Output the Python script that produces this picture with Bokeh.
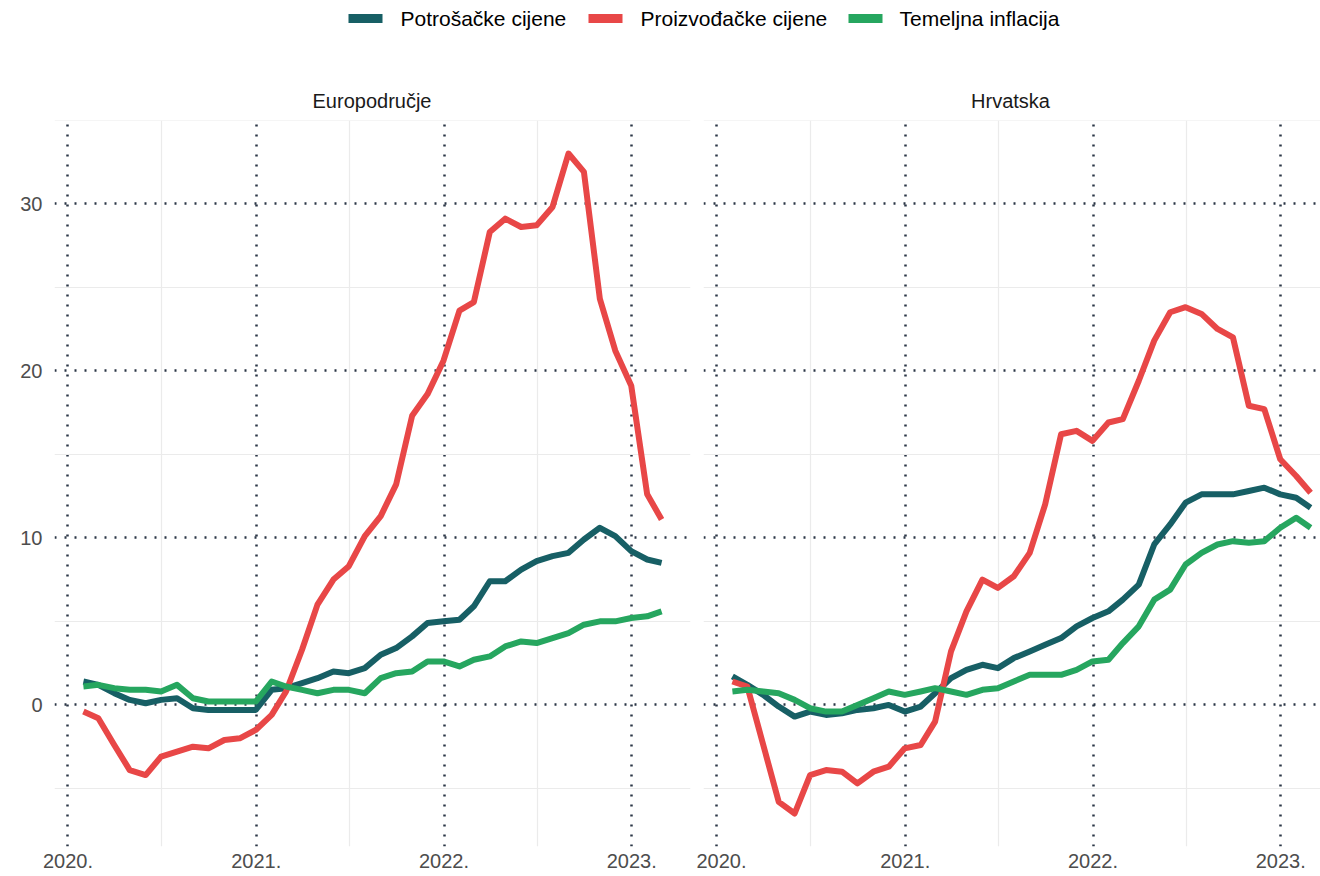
import pandas as pd
from bokeh.plotting import figure
from bokeh.layouts import column, row
from bokeh.models import Range1d, FixedTicker, DatetimeTickFormatter, ColumnDataSource
from bokeh.core.properties import value
from bokeh.embed import file_html
from bokeh.resources import INLINE

# ---------------- data ----------------
months = pd.date_range("2020-01-01", periods=38, freq="MS") + pd.offsets.MonthEnd(0)

series_names = ["Potrošačke cijene", "Proizvođačke cijene", "Temeljna inflacija"]
panel_names = ["Europodručje", "Hrvatska"]

ea_cpi = [1.4, 1.2, 0.7, 0.3, 0.1, 0.3, 0.4, -0.2, -0.3, -0.3, -0.3, -0.3,
          0.9, 1.0, 1.3, 1.6, 2.0, 1.9, 2.2, 3.0, 3.4, 4.1, 4.9, 5.0,
          5.1, 5.9, 7.4, 7.4, 8.1, 8.6, 8.9, 9.1, 9.9, 10.6, 10.1, 9.2,
          8.7, 8.5]
ea_ppi = [-0.4, -0.8, -2.4, -3.9, -4.2, -3.1, -2.8, -2.5, -2.6, -2.1, -2.0, -1.5,
          -0.6, 0.8, 3.3, 6.0, 7.5, 8.3, 10.1, 11.3, 13.2, 17.3, 18.6, 20.6,
          23.6, 24.1, 28.3, 29.1, 28.6, 28.7, 29.8, 33.0, 31.9, 24.3, 21.2, 19.1,
          12.6, 11.1]
ea_core = [1.1, 1.2, 1.0, 0.9, 0.9, 0.8, 1.2, 0.4, 0.2, 0.2, 0.2, 0.2,
           1.4, 1.1, 0.9, 0.7, 0.9, 0.9, 0.7, 1.6, 1.9, 2.0, 2.6, 2.6,
           2.3, 2.7, 2.9, 3.5, 3.8, 3.7, 4.0, 4.3, 4.8, 5.0, 5.0, 5.2,
           5.3, 5.6]

hr_cpi = [1.7, 1.2, 0.6, -0.1, -0.7, -0.4, -0.6, -0.5, -0.3, -0.2, 0.0, -0.4,
          -0.1, 0.7, 1.6, 2.1, 2.4, 2.2, 2.8, 3.2, 3.6, 4.0, 4.7, 5.2,
          5.6, 6.3, 7.2, 9.6, 10.8, 12.1, 12.6, 12.6, 12.6, 12.8, 13.0, 12.6,
          12.4, 11.8]
hr_ppi = [1.4, 1.1, -2.4, -5.8, -6.5, -4.2, -3.9, -4.0, -4.7, -4.0, -3.7, -2.6,
          -2.4, -1.0, 3.2, 5.6, 7.5, 7.0, 7.7, 9.1, 12.0, 16.2, 16.4, 15.8,
          16.9, 17.1, 19.4, 21.8, 23.5, 23.8, 23.4, 22.5, 22.0, 17.9, 17.7, 14.7,
          13.7, 12.7]
hr_core = [0.8, 0.9, 0.8, 0.7, 0.3, -0.2, -0.4, -0.4, 0.0, 0.4, 0.8, 0.6,
           0.8, 1.0, 0.8, 0.6, 0.9, 1.0, 1.4, 1.8, 1.8, 1.8, 2.1, 2.6,
           2.7, 3.7, 4.7, 6.3, 6.9, 8.4, 9.1, 9.6, 9.8, 9.7, 9.8, 10.6,
           11.2, 10.6]

y_major = [0, 10, 20, 30]
y_minor = [-5, 5, 15, 25, 35]
year_ticks = ["2020-01-01", "2021-01-01", "2022-01-01", "2023-01-01"]
midyear_ticks = ["2020-07-01", "2021-07-01", "2022-07-01"]

# ---------------- style ----------------
COLORS = ["#175f65", "#e84747", "#26a65f"]
FONT = "Liberation Sans"
LINE_W = 6
DOT_COLOR = "#2b3646"

def ms(d):
    return pd.Timestamp(d).value / 1e6

x_ms = [ms(d) for d in months]
d0, d1 = x_ms[0], x_ms[-1]
span = d1 - d0
x_start = d0 - 0.05 * span
x_end = d1 + 0.05 * span

all_vals = ea_cpi + ea_ppi + ea_core + hr_cpi + hr_ppi + hr_core
y_lo, y_hi = min(all_vals), max(all_vals)
y_pad = 0.05 * (y_hi - y_lo)

LEFT_FRAME = 636
RIGHT_FRAME = 617
right_end = x_start + (x_end - x_start) * RIGHT_FRAME / LEFT_FRAME

def make_panel(series, width, border_left, border_right, xr_end, show_y):
    p = figure(width=width, height=764, output_backend="svg", toolbar_location=None,
               x_axis_type="datetime",
               x_range=Range1d(x_start, xr_end), y_range=Range1d(y_lo - y_pad, y_hi + y_pad),
               min_border_left=border_left, min_border_right=border_right,
               min_border_top=8, min_border_bottom=30)
    p.outline_line_color = None
    p.background_fill_color = "white"
    p.border_fill_color = "white"

    xt = FixedTicker(ticks=[ms(t) for t in year_ticks], minor_ticks=[ms(t) for t in midyear_ticks])
    yt = FixedTicker(ticks=y_major, minor_ticks=y_minor)
    p.xaxis.ticker = xt
    p.yaxis.ticker = yt
    p.xgrid.ticker = xt
    p.ygrid.ticker = yt
    for g in (p.xgrid, p.ygrid):
        g.grid_line_color = DOT_COLOR
        g.grid_line_width = 2.5
        g.grid_line_dash = "2 8"
        g.minor_grid_line_color = "#ebebeb"
        g.minor_grid_line_width = 1.2

    fmt = "%Y."
    p.xaxis.formatter = DatetimeTickFormatter(
        microseconds=fmt, milliseconds=fmt, seconds=fmt, minsec=fmt, minutes=fmt,
        hourmin=fmt, hours=fmt, days=fmt, months=fmt, years=fmt)
    for ax in (p.xaxis, p.yaxis):
        ax.axis_line_color = None
        ax.major_tick_line_color = None
        ax.minor_tick_line_color = None
        ax.major_tick_out = 0
        ax.minor_tick_out = 0
        ax.major_label_text_font = FONT
        ax.major_label_text_font_size = "20px"
        ax.major_label_text_color = "#4d4d4d"
    p.xaxis.major_label_standoff = 7
    p.yaxis.major_label_standoff = 12
    if not show_y:
        p.yaxis.visible = False

    for vals, col in zip(series, COLORS):
        src = ColumnDataSource(dict(x=months, y=vals))
        p.line("x", "y", source=src, line_color=col, line_width=LINE_W, line_join="round")
    return p

p_left = make_panel([ea_cpi, ea_ppi, ea_core], 696, 54, 6, x_end, True)
p_right = make_panel([hr_cpi, hr_ppi, hr_core], 624, 7, 0, right_end, False)

# ---------------- top strip: legend + facet titles ----------------
TOP_H = 112
top = figure(width=1320, height=TOP_H, output_backend="svg", toolbar_location=None,
             x_range=Range1d(0, 1320), y_range=Range1d(0, TOP_H),
             x_axis_location=None, y_axis_location=None,
             min_border=0, min_border_left=0, min_border_right=0,
             min_border_top=0, min_border_bottom=0)
top.outline_line_color = None
top.xgrid.visible = False
top.ygrid.visible = False
top.background_fill_color = "white"
top.border_fill_color = "white"

# positions measured from the top edge of the page
key_x0 = [348, 588, 848]
key_len = 34
label_x = [400, 640, 899]
key_y = TOP_H - 18
label_mid = TOP_H - 18
title_mid = TOP_H - 100
top.segment(x0=key_x0, y0=[key_y] * 3, x1=[k + key_len for k in key_x0], y1=[key_y] * 3,
            line_color=COLORS, line_width=9)
top.text(x=label_x, y=[label_mid] * 3, text=series_names, text_font=value(FONT),
         text_font_size="21px", text_color="#000000", text_baseline="middle", text_align="left")
top.text(x=[371.5, 1010], y=[title_mid] * 2, text=panel_names, text_font=value(FONT),
         text_font_size="20px", text_color="#1a1a1a", text_baseline="middle", text_align="center")

layout = column(top, row(p_left, p_right, spacing=0), spacing=0)
open("out.html", "w").write(file_html(layout, INLINE))
